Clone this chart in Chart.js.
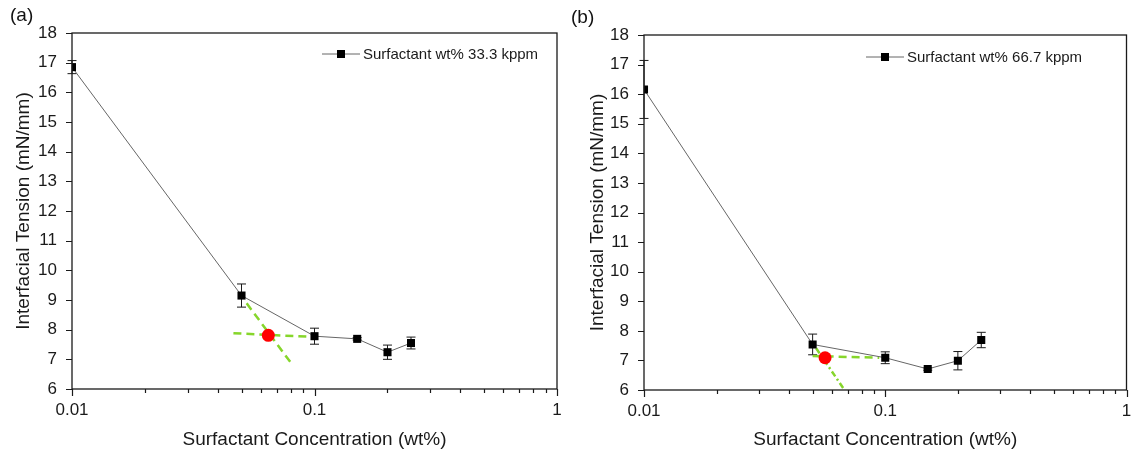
<!DOCTYPE html>
<html>
<head>
<meta charset="utf-8">
<script src="https://cdn.jsdelivr.net/npm/chart.js@4.4.1/dist/chart.umd.min.js"></script>
<style>
    body { margin: 0; background: #fff; width: 1133px; height: 453px; overflow: hidden; position: relative; font-family: "Liberation Sans", Arial, sans-serif; }
    .panel { position: absolute; top: 0; height: 453px; }
    #wrap-a { left: 0; width: 566px; }
    #wrap-b { left: 566px; width: 567px; }
    .tag { position: absolute; font-size: 19px; color: #111; }
</style>
</head>
<body>
<div class="panel" id="wrap-a"><canvas id="chart-a"></canvas></div>
<div class="panel" id="wrap-b"><canvas id="chart-b"></canvas></div>
<div class="tag" style="left:10px; top:4px;">(a)</div>
<div class="tag" style="left:571px; top:6px;">(b)</div>
<script>
// Surfactant concentration (wt%)
const concentration = [0.01, 0.05, 0.1, 0.15, 0.2, 0.25];

// Panel (a) - 33.3 kppm
const tensionA = [16.85, 9.15, 7.78, 7.69, 7.24, 7.55];
const errorA = [0.22, 0.39, 0.27, 0.04, 0.24, 0.2];
const cmcA = [{ x: 0.0645, y: 7.81 }];
const tangentSteepA = [{ x: 0.0525, y: 8.89 }, { x: 0.0798, y: 6.89 }];
const tangentFlatA = [{ x: 0.0463, y: 7.88 }, { x: 0.0958, y: 7.76 }];

// Panel (b) - 66.7 kppm
const tensionB = [16.16, 7.54, 7.09, 6.71, 6.99, 7.69];
const errorB = [0.98, 0.35, 0.2, 0.04, 0.31, 0.26];
const cmcB = [{ x: 0.0563, y: 7.09 }];
const tangentSteepB = [{ x: 0.0517, y: 7.41 }, { x: 0.067, y: 6.06 }];
const tangentFlatB = [{ x: 0.05, y: 7.15 }, { x: 0.0944, y: 7.09 }];

const legendLabels = ["Surfactant wt% 33.3 kppm", "Surfactant wt% 66.7 kppm"];
const xTitle = "Surfactant Concentration (wt%)";
const yTitle = "Interfacial Tension (mN/mm)";
const xTickLabels = { "-2": "0.01", "-1": "0.1", "0": "1" };
const yMin = 6, yMax = 18;

const FONT = '"Liberation Sans", Arial, sans-serif';
const INK = "#1a1a1a";
const GREEN = "#86d62b";

// error bars, frame, ticks and the in-plot legend
const decorPlugin = {
    id: "decor",
    beforeDatasetsDraw(chart, args, opts) {
        const { ctx, scales: { x, y } } = chart;
        ctx.save();
        ctx.strokeStyle = INK;
        ctx.lineWidth = 1;
        opts.values.forEach((v, i) => {
            const px = x.getPixelForValue(concentration[i]);
            const top = y.getPixelForValue(v + opts.errors[i]);
            const bot = y.getPixelForValue(v - opts.errors[i]);
            ctx.beginPath();
            ctx.moveTo(px, top); ctx.lineTo(px, bot);
            ctx.moveTo(px - 4.5, top); ctx.lineTo(px + 4.5, top);
            ctx.moveTo(px - 4.5, bot); ctx.lineTo(px + 4.5, bot);
            ctx.stroke();
        });
        ctx.restore();
    },
    afterDraw(chart, args, opts) {
        const { ctx, chartArea: a, scales: { x, y } } = chart;
        ctx.save();
        ctx.strokeStyle = INK;
        ctx.lineWidth = 1.3;
        ctx.strokeRect(a.left, a.top, a.right - a.left, a.bottom - a.top);

        ctx.lineWidth = 1.2;
        ctx.beginPath();
        y.ticks.forEach((t) => {
            const py = Math.round(y.getPixelForValue(t.value)) + 0.5;
            ctx.moveTo(a.left - 6, py); ctx.lineTo(a.left, py);
        });
        x.ticks.forEach((t) => {
            const exp = Math.floor(Math.log10(t.value) + 1e-9);
            const sig = t.value / Math.pow(10, exp);
            if (Math.abs(sig - Math.round(sig)) > 1e-6) return;
            const px = Math.round(x.getPixelForValue(t.value)) + 0.5;
            const len = Math.round(sig) === 1 ? 7 : 4;
            ctx.moveTo(px, a.bottom); ctx.lineTo(px, a.bottom + len);
        });
        ctx.stroke();

        // legend
        const lg = opts.legend;
        ctx.strokeStyle = "#666";
        ctx.lineWidth = 1;
        ctx.beginPath();
        ctx.moveTo(lg.x, lg.y); ctx.lineTo(lg.x + 38, lg.y);
        ctx.stroke();
        ctx.fillStyle = "#000";
        ctx.fillRect(lg.x + 19 - 4, lg.y - 4, 8, 8);
        ctx.fillStyle = INK;
        ctx.font = "15px " + FONT;
        ctx.textBaseline = "middle";
        ctx.fillText(lg.text, lg.x + 41, lg.y + 1);
        ctx.restore();
    }
};

function makeChart(id, values, errors, cmc, steep, flat, steepDash, layout) {
    return new Chart(document.getElementById(id), {
        type: "scatter",
        data: {
            datasets: [
                {
                    data: concentration.map((c, i) => ({ x: c, y: values[i] })),
                    showLine: true,
                    clip: 0,
                    borderColor: "#666",
                    borderWidth: 1,
                    pointStyle: "rect",
                    pointRadius: 5.7,
                    pointBackgroundColor: "#000",
                    pointBorderColor: "#000",
                    pointBorderWidth: 0
                },
                {
                    data: cmc,
                    pointRadius: 6.5,
                    pointBackgroundColor: "#ff0000",
                    pointBorderColor: "#ff0000",
                    pointBorderWidth: 0
                },
                {
                    data: steep,
                    showLine: true,
                    borderColor: GREEN,
                    borderWidth: 2.5,
                    borderDash: steepDash,
                    pointRadius: 0
                },
                {
                    data: flat,
                    showLine: true,
                    borderColor: GREEN,
                    borderWidth: 2.5,
                    borderDash: [8, 5],
                    pointRadius: 0
                }
            ]
        },
        options: {
            responsive: true,
            maintainAspectRatio: false,
            animation: false,
            layout: { padding: { top: layout.top, right: layout.right, left: 0, bottom: 0 } },
            plugins: {
                legend: { display: false },
                tooltip: { enabled: false },
                decor: { values, errors, legend: layout.legend }
            },
            scales: {
                x: {
                    type: "logarithmic",
                    min: 0.01,
                    max: 1,
                    grid: { display: false, drawTicks: false },
                    border: { display: false },
                    afterFit: (s) => {
                        s.height = layout.xHeight;
                        s.paddingLeft = 0;
                        s.paddingRight = 0;
                    },
                    ticks: {
                        autoSkip: false,
                        maxRotation: 0,
                        padding: 11,
                        color: INK,
                        font: { family: FONT, size: 17 },
                        callback: (v) => {
                            const e = Math.log10(v);
                            return Math.abs(e - Math.round(e)) < 1e-6 ? xTickLabels[String(Math.round(e))] : "";
                        }
                    },
                    title: {
                        display: true,
                        text: xTitle,
                        color: INK,
                        font: { family: FONT, size: 19 },
                        padding: { top: 0, bottom: 2 }
                    }
                },
                y: {
                    min: yMin,
                    max: yMax,
                    grid: { display: false, drawTicks: false },
                    border: { display: false },
                    afterFit: (s) => { s.width = layout.yWidth; },
                    ticks: {
                        stepSize: 1,
                        padding: 15,
                        color: INK,
                        font: { family: FONT, size: 17 }
                    },
                    title: {
                        display: true,
                        text: yTitle,
                        color: INK,
                        font: { family: FONT, size: 19 },
                        padding: { top: layout.titleOffset, bottom: 0 }
                    }
                }
            }
        },
        plugins: [decorPlugin]
    });
}

makeChart("chart-a", tensionA, errorA, cmcA, tangentSteepA, tangentFlatA, [8, 5], {
    top: 33, right: 9, xHeight: 64, yWidth: 72, titleOffset: 12,
    legend: { x: 322, y: 54, text: legendLabels[0] }
});
makeChart("chart-b", tensionB, errorB, cmcB, tangentSteepB, tangentFlatB, [6, 3, 2, 3], {
    top: 35, right: 5, xHeight: 63, yWidth: 78, titleOffset: 20,
    legend: { x: 300, y: 57, text: legendLabels[1] }
});
</script>
</body>
</html>
